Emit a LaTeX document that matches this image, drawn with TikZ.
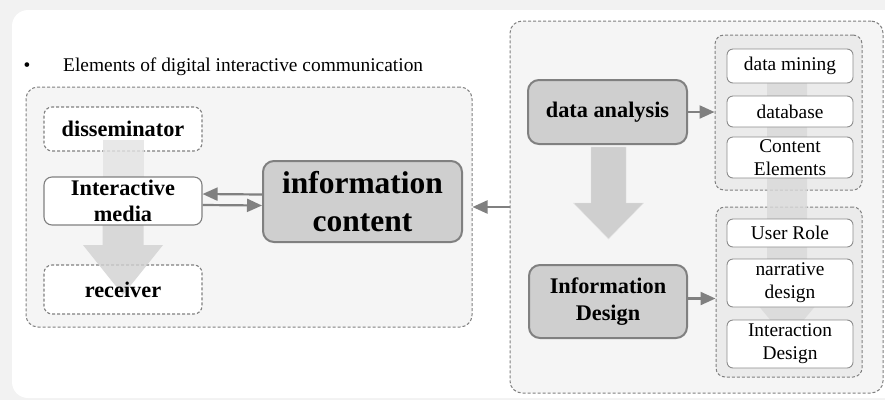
\documentclass[tikz,border=0pt]{standalone}
\usepackage{fontspec}
\setmainfont{Liberation Serif}
\usetikzlibrary{arrows.meta}

\tikzset{
  plain/.style = {font=\fontsize{19.4}{23.3}\selectfont},
  heavy/.style = {font=\fontsize{22.3}{26.5}\selectfont\bfseries},
  frame/.style = {draw=black!50, dashed, dash pattern=on 3pt off 2pt, fill=black!4, rounded corners=12pt, line width=1pt},
  subframe/.style = {frame, fill=black!8, rounded corners=9pt},
  role/.style = {heavy, draw=black!50, dashed, dash pattern=on 3pt off 2pt, fill=white, rounded corners=8pt, line width=1.1pt, inner sep=0pt, minimum width=158pt, align=center},
  medium/.style = {role, solid},
  core/.style = {draw=black!50, fill=black!19, line width=2pt, rounded corners=11pt, inner sep=0pt, align=center},
  item/.style = {plain, draw=black!45, fill=white, rounded corners=6pt, line width=0.9pt, inner sep=0pt, minimum width=126pt, align=center},
  conn/.style = {draw=black!50, line width=2.2pt, -{Triangle[length=15pt, width=13pt]}},
  fat/.style = {fill=black!18, opacity=0.8},
}

\begin{document}
\begin{tikzpicture}[x=1pt, y=-1pt]
	\useasboundingbox (0,0) rectangle (885,400);
	\fill[black!5] (0,0) rectangle (885,400);
	\fill[white, rounded corners=16pt] (12,10) rectangle (905,398);

	% left part: elements of communication
	\node[plain] (dot) at (27,67) {\textbullet};
	\node[plain, anchor=west, inner sep=0pt] (title) at (63,67) {Elements of digital interactive communication};
	\node[frame, minimum width=446pt, minimum height=240pt] (comm) at (249,207) {};

	\node[role, minimum height=44pt] (diss) at (123,129) {disseminator};
	\node[role, minimum height=49pt] (recv) at (123,289.5) {};
	\fill[fat, fill=black!11] (102.5,140) rectangle (143.5,180);
	\fill[fat] (102.5,225) -- (143.5,225) -- (143.5,245) -- (163,245) -- (123,295) -- (83,245) -- (102.5,245) -- cycle;
	\node[heavy] (recvtext) at (recv) {receiver};
	\node[medium, minimum height=48pt] (media) at (123,201) {Interactive\\media};
	\node[core, minimum width=199pt, minimum height=81pt, font=\fontsize{31.5}{38}\selectfont\bfseries] (info) at (362.5,201.5) {information\\content};

	\draw[conn] ([yshift=7pt]info.west) -- ([yshift=7pt]media.east);
	\draw[conn] ([yshift=-4pt]media.east) -- ([yshift=-4pt]info.west);

	% right part: analysis and design
	\node[frame, minimum width=373pt, minimum height=372pt] (work) at (696.5,207) {};
	\node[subframe, minimum width=147pt, minimum height=155pt] (upper) at (788.5,112.5) {};
	\node[subframe, minimum width=146pt, minimum height=170pt] (lower) at (789,292) {};
	\fill[fat, fill=black!15] (767,66) -- (807,66) -- (807,292) -- (827,292) -- (787,340) -- (747,292) -- (767,292) -- cycle;

	\node[item, minimum height=34pt] (mining) at (790,66) {data mining};
	\node[item, minimum height=31pt] (base) at (790,111.5) {database};
	\node[item, minimum height=41pt] (elem) at (790,157.5) {Content\\Elements};
	\node[item, minimum height=28pt] (user) at (790,233) {User Role};
	\node[item, minimum height=48pt] (narr) at (790,283) {narrative\\design};
	\node[item, minimum height=48pt] (inter) at (790,344) {Interaction\\Design};

	\fill[black!19, draw=black!10] (591,147) -- (626,147) -- (626,203) -- (643.5,203) -- (608.5,239) -- (573.5,203) -- (591,203) -- cycle;
	\node[core, heavy, minimum width=159pt, minimum height=64pt] (anal) at (607.5,112) {data analysis};
	\node[core, heavy, minimum width=158pt, minimum height=73pt] (design) at (608,301.5) {Information\\Design};

	\draw[conn] (anal.east) -- (anal.east -| upper.west);
	\draw[conn] ([yshift=3pt]design.east) -- ([yshift=3pt]design.east -| lower.west);
	\draw[conn] (work.west) -- (comm.east);
\end{tikzpicture}
\end{document}
